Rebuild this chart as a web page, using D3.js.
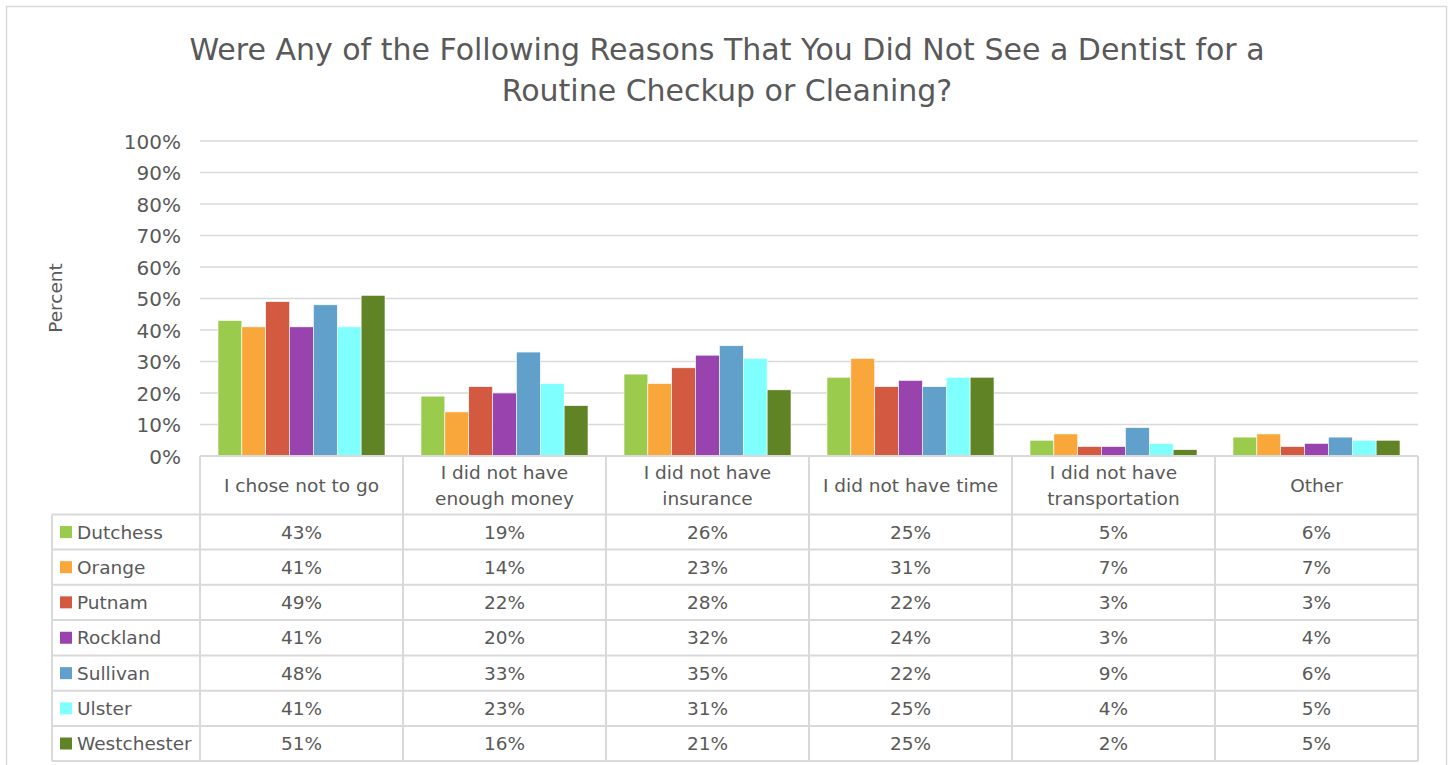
<!DOCTYPE html>
<html><head><meta charset="utf-8">
<script src="https://cdn.jsdelivr.net/npm/d3@7/dist/d3.min.js"></script>
<style>
html,body{margin:0;padding:0;background:#fff;}
svg text{font-family:"DejaVu Sans",sans-serif;fill:#595959;}
</style></head>
<body>
<svg id="chart" width="1450" height="765"></svg>
<script>
const titleLines = ["Were Any of the Following Reasons That You Did Not See a Dentist for a", "Routine Checkup or Cleaning?"];
const categories = ["I chose not to go", "I did not have enough money", "I did not have insurance", "I did not have time", "I did not have transportation", "Other"];
const categoryLines = [["I chose not to go"], ["I did not have", "enough money"], ["I did not have", "insurance"], ["I did not have time"], ["I did not have", "transportation"], ["Other"]];
const seriesNames = ["Dutchess", "Orange", "Putnam", "Rockland", "Sullivan", "Ulster", "Westchester"];
const seriesColors = ["#9BCB4C", "#F9A73B", "#D35A41", "#9843AE", "#62A0CC", "#80FFFF", "#5F8325"];
const dutchess    = [43, 19, 26, 25, 5, 6];
const orange      = [41, 14, 23, 31, 7, 7];
const putnam      = [49, 22, 28, 22, 3, 3];
const rockland    = [41, 20, 32, 24, 3, 4];
const sullivan    = [48, 33, 35, 22, 9, 6];
const ulster      = [41, 23, 31, 25, 4, 5];
const westchester = [51, 16, 21, 25, 2, 5];
const seriesValues = [dutchess, orange, putnam, rockland, sullivan, ulster, westchester];
const yTicks = [0, 10, 20, 30, 40, 50, 60, 70, 80, 90, 100];
const yLabel = "Percent";

const svg = d3.select("#chart");
const grid = "#d9d9d9";
const plot = {left: 200, right: 1418, top: 141, bottom: 456};
const tableLeft = 52;
const rowEdges = [456, 514.5, 549.6, 584.7, 620, 655.5, 690.8, 726, 761];
const bodySize = "18.5px";

// outer border
svg.append("rect").attr("x", 6.5).attr("y", 6.5).attr("width", 1440).attr("height", 770)
  .attr("fill", "none").attr("stroke", grid).attr("stroke-width", 1.5);

// title
svg.append("text").attr("x", 727).attr("y", 60).attr("text-anchor", "middle")
  .style("font-size", "30px")
  .selectAll("tspan").data(titleLines).join("tspan")
  .attr("x", 727).attr("dy", (d, i) => i === 0 ? 0 : 41).text(d => d);

const y = d3.scaleLinear().domain([0, 100]).range([plot.bottom, plot.top]);
const x0 = d3.scaleBand().domain(categories).range([plot.left, plot.right]).padding(0);
const x1 = d3.scaleBand().domain(seriesNames).range([18, x0.bandwidth() - 18]).padding(0);

// gridlines
svg.append("g").selectAll("line").data(yTicks.filter(t => t > 0)).join("line")
  .attr("x1", plot.left).attr("x2", plot.right)
  .attr("y1", d => y(d)).attr("y2", d => y(d))
  .attr("stroke", grid).attr("stroke-width", 1.5);

// y axis
const yAxis = d3.axisLeft(y).tickValues(yTicks).tickFormat(d => d + "%").tickSize(0).tickPadding(0);
const ya = svg.append("g").attr("transform", `translate(181,0)`).call(yAxis);
ya.select(".domain").remove();
ya.selectAll("text").style("font-size", "20px").attr("fill", "#595959").attr("dy", "0.35em")
  .style("font-family", "DejaVu Sans, sans-serif");

svg.append("text").attr("transform", "translate(62,298) rotate(-90)").attr("text-anchor", "middle")
  .style("font-size", bodySize).text(yLabel);

// bars
const groups = svg.append("g").selectAll("g").data(categories).join("g")
  .attr("transform", d => `translate(${x0(d)},0)`);
groups.selectAll("rect").data((c, ci) => seriesNames.map((s, si) => ({s, si, v: seriesValues[si][ci]})))
  .join("rect")
  .attr("x", d => x1(d.s)).attr("width", x1.bandwidth())
  .attr("y", d => y(d.v)).attr("height", d => y(0) - y(d.v))
  .attr("fill", d => seriesColors[d.si]).attr("stroke", "#fff").attr("stroke-width", 0.6);

// table
const tg = svg.append("g");
tg.append("line").attr("x1", plot.left).attr("x2", plot.right).attr("y1", rowEdges[0]).attr("y2", rowEdges[0]).attr("stroke", grid).attr("stroke-width", 2);
rowEdges.slice(1).forEach(yy => {
  tg.append("line").attr("x1", tableLeft).attr("x2", plot.right).attr("y1", yy).attr("y2", yy).attr("stroke", grid).attr("stroke-width", 2);
});
const colEdges = categories.map(c => x0(c)).concat([plot.right]);
colEdges.forEach(xx => {
  tg.append("line").attr("x1", xx).attr("x2", xx).attr("y1", rowEdges[0]).attr("y2", rowEdges[rowEdges.length - 1]).attr("stroke", grid).attr("stroke-width", 2);
});
tg.append("line").attr("x1", tableLeft).attr("x2", tableLeft).attr("y1", rowEdges[1]).attr("y2", rowEdges[rowEdges.length - 1]).attr("stroke", grid).attr("stroke-width", 2);

// header text
categories.forEach((c, ci) => {
  const lines = categoryLines[ci];
  const cx = x0(c) + x0.bandwidth() / 2;
  const cy = (rowEdges[0] + rowEdges[1]) / 2;
  const lh = 26;
  const t = tg.append("text").attr("text-anchor", "middle").style("font-size", bodySize);
  lines.forEach((l, li) => {
    t.append("tspan").attr("x", cx).attr("y", cy + (li - (lines.length - 1) / 2) * lh).attr("dy", "0.35em").text(l);
  });
});

// rows
seriesNames.forEach((s, si) => {
  const cy = (rowEdges[si + 1] + rowEdges[si + 2]) / 2;
  tg.append("rect").attr("x", 60).attr("y", cy - 6).attr("width", 12).attr("height", 12).attr("fill", seriesColors[si]);
  tg.append("text").attr("x", 77).attr("y", cy).attr("dy", "0.35em").style("font-size", bodySize).text(s);
  categories.forEach((c, ci) => {
    tg.append("text").attr("x", x0(c) + x0.bandwidth() / 2).attr("y", cy).attr("dy", "0.35em")
      .attr("text-anchor", "middle").style("font-size", bodySize).text(seriesValues[si][ci] + "%");
  });
});
</script>
</body></html>
